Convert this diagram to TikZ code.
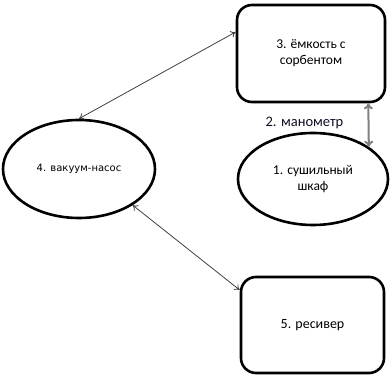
\documentclass[tikz,border=0pt]{standalone}
\usepackage{fontspec}
\setmainfont{Carlito}
\newfontfamily\dejavu{DejaVu Sans}
\usetikzlibrary{shapes.geometric,calc,arrows.meta}
\begin{document}
\begin{tikzpicture}[x=1pt,y=-1pt,
  boxstyle/.style={draw=black,line width=2.6pt,rounded corners=15pt,inner sep=0pt,align=center},
  ellstyle/.style={draw=black,line width=2.6pt,ellipse,inner sep=0pt,align=center},
  thinarrow/.style={draw=black!75,line width=0.8pt,{To[length=5pt,width=7pt]}-{To[length=5pt,width=7pt]}},
  grayarrow/.style={draw=black!50,line width=2pt,{To[length=6pt,width=9pt]}-{To[length=6pt,width=9pt]}},
  txt/.style={font=\fontsize{13.5}{16}\selectfont}]
\useasboundingbox (0,0) rectangle (392,379);
\node[boxstyle,minimum width=148pt,minimum height=97pt,txt] (b3) at (311,53.5) {3. ёмкость с\\сорбентом};
\node[boxstyle,minimum width=143pt,minimum height=96pt,font=\fontsize{14}{16}\selectfont] (b5) at (312.5,325) {5. ресивер};
\node[ellstyle,minimum width=152pt,minimum height=98pt,font=\dejavu\fontsize{10}{12}\selectfont] (e4) at (79,169) {4. вакуум-насос};
\node[ellstyle,minimum width=150pt,minimum height=92pt,txt] (e1) at (313,179) {1. сушильный\\шкаф};
\node[font=\fontsize{14.5}{16}\selectfont,text={rgb,255:red,15;green,15;blue,35},inner sep=0pt] (lbl) at (304.5,123) {2. манометр};
\draw[thinarrow] (e4.north) -- ([yshift=21.5pt]b3.west);
\draw[thinarrow] (e4.-34) -- ([yshift=35pt]b5.west);
\draw[grayarrow] ([xshift=-18pt]b3.south east) -- (e1.30.6);
\end{tikzpicture}
\end{document}
